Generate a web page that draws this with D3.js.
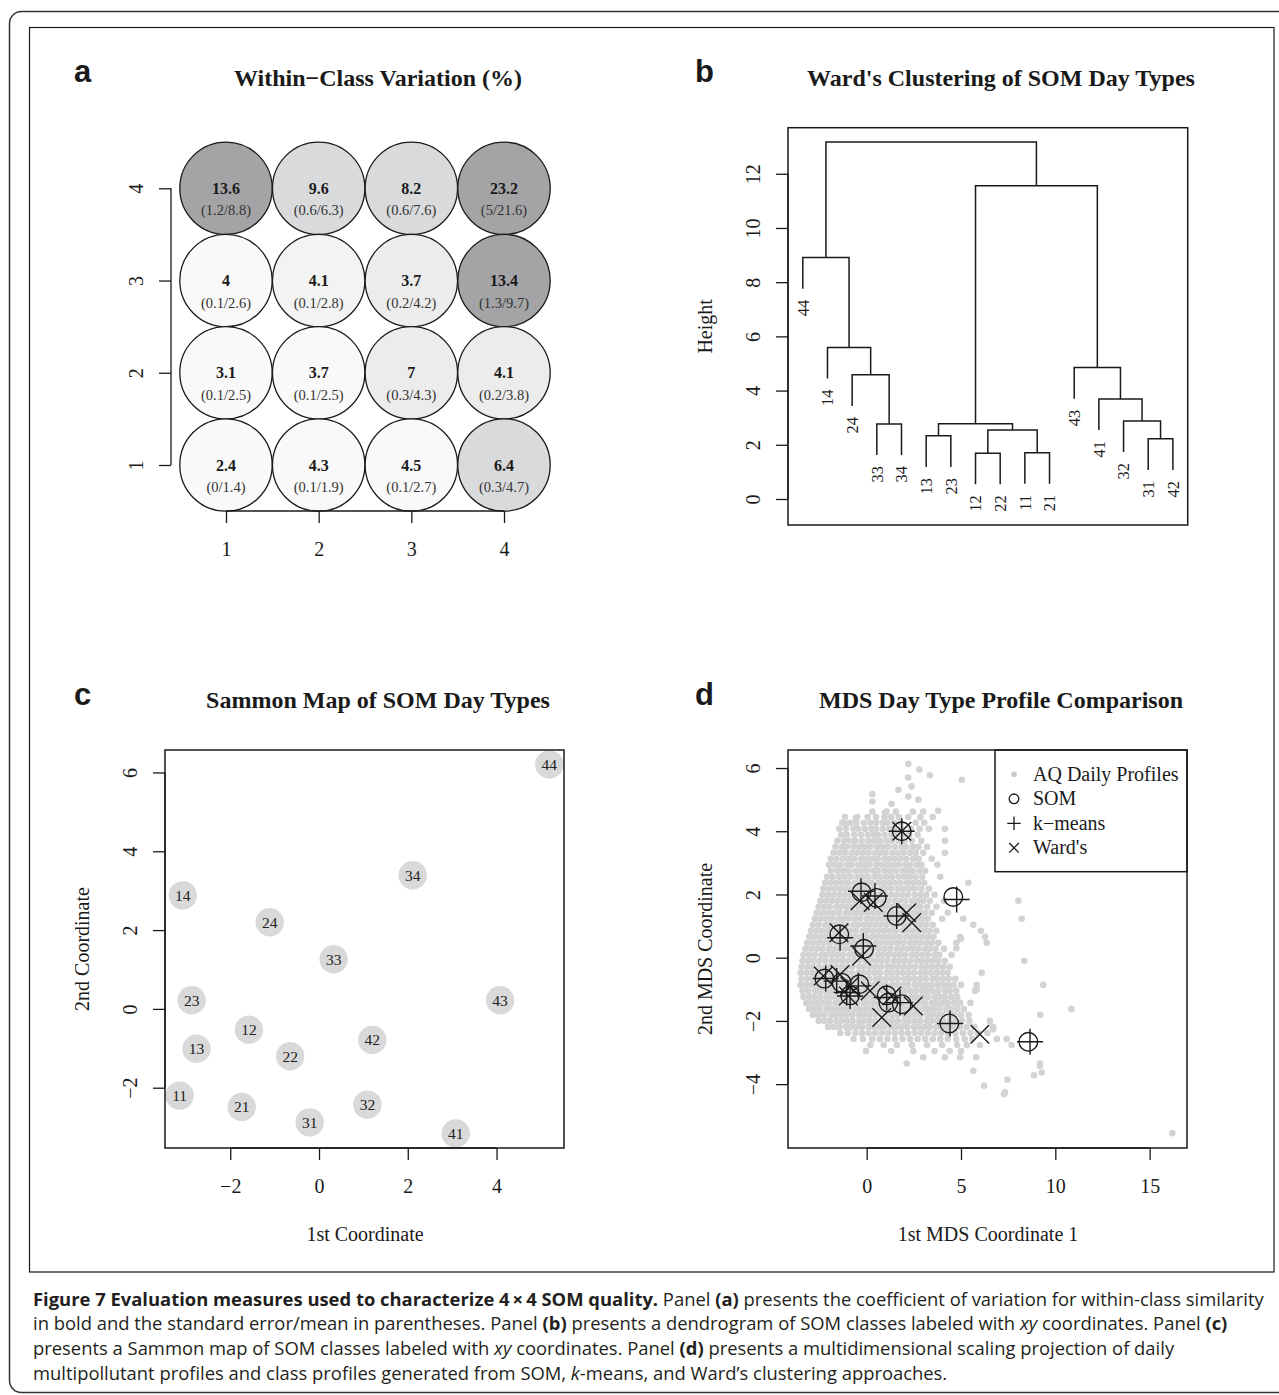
<!DOCTYPE html>
<html>
<head>
<meta charset="utf-8">
<script src="https://cdn.jsdelivr.net/npm/d3@7"></script>
<style>
  body { margin: 0; background: #fff; }
</style>
</head>
<body>
<div id="chart"></div>
<script>
// ---- panel a: within-class variation on the 4x4 SOM grid (rows from y=4 down to y=1)
var gridRows = [4, 3, 2, 1];
var gridCols = [1, 2, 3, 4];
var cvValue = [["13.6", "9.6", "8.2", "23.2"], ["4", "4.1", "3.7", "13.4"], ["3.1", "3.7", "7", "4.1"], ["2.4", "4.3", "4.5", "6.4"]];
var cvSE    = [["1.2", "0.6", "0.6", "5"], ["0.1", "0.1", "0.2", "1.3"], ["0.1", "0.1", "0.3", "0.2"], ["0", "0.1", "0.1", "0.3"]];
var cvMean  = [[8.8, 6.3, 7.6, 21.6], [2.6, 2.8, 4.2, 9.7], [2.5, 2.5, 4.3, 3.8], [1.4, 1.9, 2.7, 4.7]];

// ---- panel b: Ward's dendrogram (leaf order as plotted, merges with heights)
var leafLabels = ["44", "14", "24", "33", "34", "13", "23", "12", "22", "11", "21", "43", "41", "32", "31", "42"];
var merges = [
  ["12", "22", 1.69], ["11", "21", 1.71], ["31", "42", 2.22], ["13", "23", 2.33],
  ["m1", "m2", 2.55], ["33", "34", 2.77], ["m4", "m5", 2.78], ["32", "m3", 2.88],
  ["41", "m8", 3.69], ["24", "m6", 4.58], ["43", "m9", 4.85], ["14", "m10", 5.59],
  ["44", "m12", 8.91], ["m7", "m11", 11.56], ["m13", "m14", 13.17]
];
var heightTicks = [0, 2, 4, 6, 8, 10, 12];

// ---- panel c: Sammon map
var sammonLabels = ["44", "34", "14", "24", "33", "23", "43", "12", "13", "42", "22", "11", "21", "31", "32", "41"];
var sammonX = [5.19, 2.11, -3.07, -1.11, 0.33, -2.87, 4.08, -1.58, -2.76, 1.20, -0.65, -3.14, -1.74, -0.21, 1.09, 3.08];
var sammonY = [6.20, 3.39, 2.88, 2.20, 1.26, 0.22, 0.22, -0.53, -1.01, -0.79, -1.20, -2.20, -2.49, -2.88, -2.43, -3.16];
var sammonXTicks = [-2, 0, 2, 4];
var sammonYTicks = [-2, 0, 2, 4, 6];

// ---- panel d: MDS of daily profiles (rows of points: y, then the x values on that row)
var profileRows = [
  [4.62, "0.3 1.05 1.55 2.45 3.0"],
  [4.45, "-1.15 -0.5 0.05 0.5 0.95 1.3 1.7 2.2 2.85 3.5"],
  [4.27, "-1.3 -0.85 -0.55 -0.15 0.2 0.5 0.85 1.1 1.45 1.8 2.6 3.05"],
  [4.08, "-1.45 -1.1 -0.7 -0.45 -0.1 0.25 0.5 0.85 1.2 1.45 1.85 2.35 2.8 3.3 4.15"],
  [3.89, "-1.35 -1.05 -0.65 -0.3 0.05 0.35 0.6 0.95 1.3 1.6 1.9 2.25 2.7"],
  [3.70, "-1.55 -1.2 -0.9 -0.6 -0.25 0.1 0.4 0.7 1.05 1.35 1.7 2.0 2.4 2.9 4.15"],
  [3.51, "-1.65 -1.3 -1.05 -0.7 -0.4 -0.1 0.2 0.55 0.85 1.15 1.5 1.85 2.1 2.45 2.75 3.2"],
  [3.32, "-1.75 -1.45 -1.15 -0.8 -0.5 -0.2 0.1 0.45 0.7 1.0 1.35 1.65 1.95 2.3 2.6 3.0 4.15"],
  [3.13, "-1.9 -1.6 -1.25 -0.95 -0.65 -0.3 0.0 0.3 0.6 0.95 1.2 1.5 1.8 2.1 2.45 2.75 3.45"],
  [2.94, "-2.0 -1.7 -1.4 -1.05 -0.8 -0.45 -0.15 0.15 0.5 0.8 1.1 1.4 1.7 2.05 2.3 2.65 2.9 3.75"],
  [2.75, "-1.9 -1.55 -1.25 -0.95 -0.6 -0.3 0.0 0.35 0.6 0.95 1.25 1.55 1.9 2.15 2.45 2.8 3.1"],
  [2.56, "-2.1 -1.8 -1.45 -1.15 -0.85 -0.5 -0.2 0.1 0.45 0.75 1.05 1.35 1.7 2.0 2.3 2.6 2.95 3.9"],
  [2.37, "-2.2 -1.9 -1.6 -1.3 -1.0 -0.65 -0.35 -0.05 0.25 0.6 0.9 1.2 1.5 1.8 2.15 2.45 2.75 3.05 5.39"],
  [2.18, "-2.3 -2.0 -1.7 -1.4 -1.1 -0.8 -0.5 -0.15 0.1 0.4 0.75 1.0 1.3 1.65 1.95 2.25 2.55 2.9 3.3"],
  [1.99, "-2.35 -2.05 -1.75 -1.45 -1.15 -0.85 -0.55 -0.25 0.1 0.4 0.7 1.0 1.3 1.6 1.9 2.2 2.55 2.85 3.15 3.6"],
  [1.80, "-2.45 -2.15 -1.85 -1.55 -1.25 -0.95 -0.65 -0.3 -0.05 0.25 0.55 0.85 1.15 1.5 1.75 2.05 2.4 2.7 3.0 3.35 4.1 8.04"],
  [1.61, "-2.55 -2.25 -1.95 -1.6 -1.35 -1.05 -0.75 -0.45 -0.15 0.15 0.45 0.8 1.05 1.35 1.65 1.95 2.25 2.6 2.85 3.2 3.7"],
  [1.42, "-2.65 -2.35 -2.05 -1.75 -1.45 -1.1 -0.85 -0.55 -0.25 0.05 0.35 0.65 0.95 1.3 1.55 1.85 2.2 2.5 2.8 3.1 3.45 4.3"],
  [1.23, "-2.75 -2.45 -2.15 -1.85 -1.5 -1.25 -0.95 -0.65 -0.35 0.0 0.25 0.55 0.85 1.15 1.45 1.8 2.05 2.35 2.65 2.95 3.25 4.0 5.12 8.22"],
  [1.04, "-2.85 -2.55 -2.2 -1.95 -1.65 -1.35 -1.05 -0.7 -0.45 -0.15 0.15 0.45 0.75 1.05 1.4 1.65 1.95 2.25 2.6 2.85 3.15 3.5 5.65"],
  [0.85, "-2.95 -2.65 -2.35 -2.05 -1.7 -1.45 -1.15 -0.85 -0.55 -0.2 0.05 0.35 0.65 0.95 1.25 1.55 1.9 2.15 2.45 2.75 3.05 3.35 3.7 6.05"],
  [0.66, "-3.05 -2.75 -2.45 -2.15 -1.85 -1.55 -1.2 -0.95 -0.65 -0.35 -0.05 0.3 0.55 0.85 1.15 1.45 1.75 2.1 2.35 2.65 2.95 3.25 3.55 4.95 6.27"],
  [0.47, "-3.15 -2.85 -2.55 -2.25 -1.95 -1.6 -1.35 -1.05 -0.75 -0.45 -0.15 0.15 0.5 0.75 1.05 1.35 1.65 1.95 2.3 2.55 2.85 3.15 3.45 3.8 4.75 6.36"],
  [0.28, "-3.25 -2.95 -2.65 -2.35 -2.0 -1.75 -1.45 -1.15 -0.85 -0.55 -0.2 0.05 0.35 0.65 0.95 1.25 1.6 1.85 2.15 2.45 2.75 3.1 3.35 3.65 4.1"],
  [0.09, "-3.35 -3.05 -2.75 -2.4 -2.15 -1.85 -1.55 -1.25 -0.9 -0.65 -0.35 -0.05 0.25 0.6 0.85 1.15 1.45 1.75 2.05 2.4 2.65 2.95 3.25 3.6 3.85 4.5"],
  [-0.10, "-3.4 -3.1 -2.8 -2.5 -2.2 -1.85 -1.6 -1.3 -1.0 -0.7 -0.4 -0.05 0.2 0.5 0.8 1.1 1.45 1.7 2.0 2.3 2.65 2.9 3.2 3.5 3.8 4.15 8.35"],
  [-0.29, "-3.45 -3.15 -2.85 -2.55 -2.2 -1.95 -1.65 -1.35 -1.05 -0.75 -0.4 -0.15 0.15 0.45 0.75 1.1 1.35 1.65 1.95 2.25 2.55 2.9 3.15 3.45 3.75 4.05 4.4"],
  [-0.48, "-3.5 -3.2 -2.9 -2.6 -2.3 -1.95 -1.7 -1.4 -1.1 -0.8 -0.45 -0.2 0.1 0.4 0.7 1.05 1.3 1.6 1.9 2.2 2.5 2.85 3.1 3.4 3.7 4.0 4.3 6.1"],
  [-0.67, "-3.45 -3.15 -2.85 -2.5 -2.25 -1.95 -1.65 -1.35 -1.0 -0.75 -0.45 -0.15 0.15 0.5 0.75 1.05 1.35 1.65 2.0 2.25 2.55 2.85 3.15 3.5 3.75 4.05 4.35 4.7"],
  [-0.86, "-3.5 -3.2 -2.9 -2.6 -2.3 -2.0 -1.65 -1.4 -1.1 -0.8 -0.5 -0.15 0.1 0.4 0.7 1.0 1.35 1.6 1.9 2.2 2.55 2.8 3.1 3.4 3.75 4.0 4.3 4.6 5.0 5.83 9.36"],
  [-1.05, "-3.4 -3.1 -2.75 -2.5 -2.2 -1.9 -1.6 -1.25 -1.0 -0.7 -0.4 -0.1 0.25 0.5 0.8 1.1 1.4 1.75 2.0 2.3 2.6 2.95 3.2 3.5 3.8 4.15 4.4 4.75 5.74"],
  [-1.24, "-3.35 -3.05 -2.75 -2.45 -2.1 -1.85 -1.55 -1.25 -0.95 -0.6 -0.35 -0.05 0.25 0.55 0.9 1.15 1.45 1.75 2.05 2.4 2.65 2.95 3.25 3.6 3.85 4.15 4.5 4.8"],
  [-1.43, "-3.2 -2.9 -2.6 -2.3 -2.0 -1.65 -1.4 -1.1 -0.8 -0.5 -0.15 0.1 0.4 0.7 1.05 1.3 1.6 1.9 2.25 2.5 2.8 3.1 3.45 3.7 4.0 4.3 4.65 4.95 5.5"],
  [-1.62, "-3.05 -2.75 -2.45 -2.1 -1.85 -1.55 -1.25 -0.95 -0.6 -0.35 -0.05 0.25 0.6 0.85 1.15 1.45 1.8 2.05 2.35 2.65 3.0 3.25 3.55 3.85 4.2 4.45 4.8 5.15 10.85"],
  [-1.81, "-2.85 -2.55 -2.25 -1.9 -1.65 -1.35 -1.05 -0.75 -0.4 -0.15 0.15 0.45 0.8 1.05 1.35 1.65 2.0 2.25 2.55 2.85 3.2 3.45 3.75 4.05 4.4 4.65 5.0 5.4 9.2"],
  [-2.00, "-2.55 -2.25 -1.95 -1.6 -1.35 -1.05 -0.75 -0.4 -0.15 0.15 0.45 0.8 1.05 1.35 1.65 2.0 2.25 2.55 2.85 3.2 3.45 3.75 4.05 4.4 4.7 5.05 5.45 6.53"],
  [-2.19, "-2.05 -1.75 -1.45 -1.1 -0.85 -0.55 -0.25 0.1 0.35 0.65 0.95 1.3 1.55 1.85 2.15 2.5 2.75 3.05 3.35 3.7 3.95 4.25 4.6 4.95 5.3 5.7 6.7"],
  [-2.38, "-1.4 -1.0 -0.6 -0.25 0.1 0.45 0.8 1.15 1.5 1.85 2.2 2.55 2.9 3.25 3.6 3.95 4.3 4.7 5.1 5.5 5.9 6.4"],
  [-2.57, "-0.7 -0.2 0.3 0.7 1.1 1.5 1.9 2.3 2.7 3.1 3.5 3.9 4.3 4.75 5.2 5.6 6.9 7.42"],
  [-2.76, "0.2 0.9 1.6 2.4 3.2 4.0 4.8 5.3 6.0 7.68"],
  [-2.95, "-0.04 1.3 2.47 3.6 4.4 5.0"],
  [-3.15, "3.0 4.15 4.95 5.8"],
  [-3.35, "2.12 9.19"]
];
var profileExtra = [
  [2.21, 6.13], [2.79, 5.95], [3.35, 5.77], [5.04, 5.63], [2.2, 5.70], [2.38, 5.42], [1.68, 5.31],
  [0.3, 5.18], [0.3, 4.94], [1.32, 4.87], [2.21, 5.1], [2.74, 5.0], [3.79, 4.65], [-1.1, 4.24],
  [-0.57, 4.42], [0.97, 4.58], [5.0, 0.6], [4.75, 0.3], [5.83, -1.0], [6.7, -2.26], [9.28, -3.63],
  [8.87, -3.72], [7.46, -3.86], [7.28, -4.32], [6.22, -4.05], [5.65, -3.58], [7.33, -4.26],
  [9.18, -3.42], [16.2, -5.55]
];
var somX  = [1.86, -0.27, 0.53, 4.59, 1.59, -1.45, -0.14, -2.24, -1.33, -0.39, -0.88, 1.06, 1.15, 1.86, 4.38, 8.57];
var somY  = [4.0, 2.07, 1.89, 1.92, 1.32, 0.74, 0.28, -0.66, -0.79, -0.84, -1.19, -1.19, -1.42, -1.47, -2.08, -2.66];
var kmX   = [1.86, -0.3, 0.44, 4.77, 1.59, -1.41, -0.18, -2.17, -1.59, -1.06, -0.44, -0.88, 1.06, 1.77, 4.42, 8.66];
var kmY   = [4.0, 2.1, 1.95, 1.84, 1.32, 0.63, 0.37, -0.66, -0.74, -1.1, -0.89, -1.21, -1.26, -1.42, -2.08, -2.66];
var wardX = [1.86, -0.35, 0.35, 2.12, 2.39, -1.47, -0.27, -2.3, -1.41, -0.9, 0.18, -0.97, 1.33, 2.47, 0.8, 6.0];
var wardY = [4.0, 1.8, 1.75, 1.42, 1.11, 0.79, 0.05, -0.58, -0.53, -0.9, -1.05, -1.21, -1.21, -1.53, -1.89, -2.42];
var mdsXTicks = [0, 5, 10, 15];
var mdsYTicks = [-4, -2, 0, 2, 4, 6];
var legendLabels = ["AQ Daily Profiles", "SOM", "k\u2212means", "Ward's"];

// ---- caption
var captionLines = [
  [["Figure 7 Evaluation measures used to characterize 4\u2009\u00d7\u20094 SOM quality.", "b"], [" Panel ", ""], ["(a)", "b"], [" presents the coefficient of variation for within-class similarity", ""]],
  [["in bold and the standard error/mean in parentheses. Panel ", ""], ["(b)", "b"], [" presents a dendrogram of SOM classes labeled with ", ""], ["xy", "i"], [" coordinates. Panel ", ""], ["(c)", "b"]],
  [["presents a Sammon map of SOM classes labeled with ", ""], ["xy", "i"], [" coordinates. Panel ", ""], ["(d)", "b"], [" presents a multidimensional scaling projection of daily", ""]],
  [["multipollutant profiles and class profiles generated from SOM, ", ""], ["k", "i"], ["-means, and Ward\u2019s clustering approaches.", ""]]
];

var serif = "'Liberation Serif','Times New Roman',Times,serif";
var ink = "#1a1a1a";

var svg = d3.select("#chart").append("svg")
    .attr("width", 1279).attr("height", 1395);
svg.append("rect").attr("width", 1279).attr("height", 1395).attr("fill", "#fff");

// outer rounded frame and figure frame
svg.append("rect").attr("x", 9.5).attr("y", 11.5).attr("width", 1290).attr("height", 1381)
    .attr("rx", 12).attr("fill", "none").attr("stroke", "#333").attr("stroke-width", 1.5);
svg.append("rect").attr("x", 29.5).attr("y", 27.5).attr("width", 1244.5).attr("height", 1244.5)
    .attr("fill", "none").attr("stroke", ink).attr("stroke-width", 1.2);

// R style axis: ticks outward, axis line only between first and last tick
function rAxis(g, scale, side, ticks) {
    var ax = (side === "left" ? d3.axisLeft(scale) : d3.axisBottom(scale))
        .tickValues(ticks).tickSize(12).tickSizeOuter(0).tickFormat(d3.format("d"));
    g.call(ax);
    var a = scale(ticks[0]), b = scale(ticks[ticks.length - 1]);
    g.select(".domain").attr("d", side === "left" ? "M0," + a + "V" + b : "M" + a + ",0H" + b);
    g.selectAll("line, path").attr("stroke", ink).attr("stroke-width", 1.3);
    g.selectAll("text").attr("font-family", serif).attr("font-size", 20).attr("fill", ink);
    if (side === "left") {
        g.selectAll(".tick text").attr("dy", null).attr("x", 0).attr("y", -28)
            .attr("text-anchor", "middle").attr("transform", "rotate(-90)");
    } else {
        g.selectAll(".tick text").attr("dy", null).attr("y", 45);
    }
}

function title(x, y, s) {
    svg.append("text").attr("x", x).attr("y", y).attr("text-anchor", "middle")
        .attr("font-family", serif).attr("font-weight", "bold").attr("font-size", 24)
        .attr("fill", ink).text(s);
}
function letter(x, y, s) {
    svg.append("text").attr("x", x).attr("y", y)
        .attr("font-family", "'Liberation Sans',Arial,sans-serif").attr("font-weight", "bold")
        .attr("font-size", 31).attr("fill", ink).text(s);
}
function yLabel(x, y, s) {
    svg.append("text").attr("transform", "translate(" + x + "," + y + ") rotate(-90)")
        .attr("text-anchor", "middle").attr("font-family", serif).attr("font-size", 20)
        .attr("fill", ink).text(s);
}
function xLabel(x, y, s) {
    svg.append("text").attr("x", x).attr("y", y).attr("text-anchor", "middle")
        .attr("font-family", serif).attr("font-size", 20).attr("fill", ink).text(s);
}
function box(x0, y0, x1, y1) {
    svg.append("rect").attr("x", x0).attr("y", y0).attr("width", x1 - x0).attr("height", y1 - y0)
        .attr("fill", "none").attr("stroke", ink).attr("stroke-width", 1.5);
}

letter(74, 82, "a"); letter(695, 82, "b"); letter(74, 705, "c"); letter(695, 705, "d");
title(378, 86, "Within\u2212Class Variation (%)");
title(1001, 86, "Ward's Clustering of SOM Day Types");
title(378, 708, "Sammon Map of SOM Day Types");
title(1001, 708, "MDS Day Type Profile Comparison");

// ================= panel a =================
var ax = d3.scaleLinear().domain([1, 4]).range([226, 504]);
var ay = d3.scaleLinear().domain([1, 4]).range([465, 188.3]);
var shade = d3.scaleThreshold().domain([2.75, 3.5, 4.5, 8])
    .range(["#f9f9f9", "#f2f3f2", "#ececec", "#d9dadb", "#a4a4a7"]);

var cells = [];
gridRows.forEach(function(gy, r) {
    gridCols.forEach(function(gx, c) {
        cells.push({x: gx, y: gy, v: cvValue[r][c], se: cvSE[r][c], m: cvMean[r][c]});
    });
});
var cellG = svg.append("g").selectAll("g").data(cells).enter().append("g")
    .attr("transform", function(d) { return "translate(" + ax(d.x) + "," + ay(d.y) + ")"; });
cellG.append("circle").attr("r", 46.2)
    .attr("fill", function(d) { return shade(d.m); })
    .attr("stroke", ink).attr("stroke-width", 1.3);
cellG.append("text").attr("y", 5.5).attr("text-anchor", "middle")
    .attr("font-family", serif).attr("font-weight", "bold").attr("font-size", 16).attr("fill", ink)
    .text(function(d) { return d.v; });
cellG.append("text").attr("y", 27).attr("text-anchor", "middle")
    .attr("font-family", serif).attr("font-size", 14.5).attr("fill", "#333")
    .text(function(d) { return "(" + d.se + "/" + d.m + ")"; });

rAxis(svg.append("g").attr("transform", "translate(171,0)"), ay, "left", gridCols);
rAxis(svg.append("g").attr("transform", "translate(0,511)"), ax, "bottom", gridCols);

// ================= panel b =================
var bx = d3.scaleLinear().domain([0.4, 16.6]).range([788, 1187.7]);
var by = d3.scaleLinear().domain([-0.96, 13.70]).range([525, 127.7]);
var allH = merges.map(function(m) { return m[2]; });
var hang = 0.1 * (d3.max(allH) - d3.min(allH));
var node = {};
leafLabels.forEach(function(l, i) { node[l] = {x: bx(i + 1), h: null}; });
var dendro = svg.append("g").attr("fill", "none").attr("stroke", ink).attr("stroke-width", 1.5);
merges.forEach(function(m, i) {
    var a = node[m[0]], b = node[m[1]], h = m[2];
    var ah = a.h === null ? h - hang : a.h, bh = b.h === null ? h - hang : b.h;
    if (a.h === null) a.end = ah;
    if (b.h === null) b.end = bh;
    dendro.append("path").attr("d", "M" + a.x + "," + by(ah) + "V" + by(h) + "H" + b.x + "V" + by(bh));
    node["m" + (i + 1)] = {x: (a.x + b.x) / 2, h: h};
});
svg.append("g").selectAll("text").data(leafLabels).enter().append("text")
    .attr("transform", function(d) { return "translate(" + node[d].x + "," + (by(node[d].end) + 11) + ") rotate(-90)"; })
    .attr("text-anchor", "end").attr("dy", "0.35em")
    .attr("font-family", serif).attr("font-size", 16.5).attr("fill", ink)
    .text(function(d) { return d; });
box(788, 127.7, 1187.7, 525);
rAxis(svg.append("g").attr("transform", "translate(788,0)"), by, "left", heightTicks);
yLabel(712, 326.4, "Height");

// ================= panel c =================
var cx = d3.scaleLinear().domain([-3.47, 5.52]).range([165, 564]);
var cy = d3.scaleLinear().domain([-3.53, 6.57]).range([1148, 750]);
var sam = svg.append("g").selectAll("g").data(sammonLabels).enter().append("g")
    .attr("transform", function(d, i) { return "translate(" + cx(sammonX[i]) + "," + cy(sammonY[i]) + ")"; });
sam.append("circle").attr("r", 14.2).attr("fill", "#d9d9d9");
sam.append("text").attr("text-anchor", "middle").attr("dy", "0.35em")
    .attr("font-family", serif).attr("font-size", 15.5).attr("fill", "#222")
    .text(function(d) { return d; });
box(165, 750, 564, 1148);
rAxis(svg.append("g").attr("transform", "translate(165,0)"), cy, "left", sammonYTicks);
rAxis(svg.append("g").attr("transform", "translate(0,1148)"), cx, "bottom", sammonXTicks);
yLabel(89, 949, "2nd Coordinate");
xLabel(365, 1241, "1st Coordinate");

// ================= panel d =================
var dx = d3.scaleLinear().domain([-4.17, 16.98]).range([788, 1187]);
var dy = d3.scaleLinear().domain([-6.02, 6.57]).range([1148, 750]);
var profiles = [];
profileRows.forEach(function(row) {
    row[1].split(" ").forEach(function(s) { profiles.push([+s, row[0]]); });
});
profiles = profiles.concat(profileExtra);
svg.append("g").selectAll("circle").data(profiles).enter().append("circle")
    .attr("cx", function(d) { return dx(d[0]); })
    .attr("cy", function(d) { return dy(d[1]); })
    .attr("r", 3.3).attr("fill", "#d3d3d3");

function plusPath(h) { return "M" + (-h) + ",0H" + h + "M0," + (-h) + "V" + h; }
function crossPath(h) { return "M" + (-h) + "," + (-h) + "L" + h + "," + h + "M" + (-h) + "," + h + "L" + h + "," + (-h); }

var mk = svg.append("g").attr("fill", "none").attr("stroke", ink).attr("stroke-width", 1.4);
mk.selectAll(".som").data(somX).enter().append("circle")
    .attr("cx", function(d) { return dx(d); })
    .attr("cy", function(d, i) { return dy(somY[i]); })
    .attr("r", 9.3);
mk.selectAll(".km").data(kmX).enter().append("path")
    .attr("transform", function(d, i) { return "translate(" + dx(d) + "," + dy(kmY[i]) + ")"; })
    .attr("d", plusPath(13));
mk.selectAll(".ward").data(wardX).enter().append("path")
    .attr("transform", function(d, i) { return "translate(" + dx(d) + "," + dy(wardY[i]) + ")"; })
    .attr("d", crossPath(9.3));

// legend
var lg = svg.append("g");
lg.append("rect").attr("x", 995).attr("y", 750).attr("width", 192).attr("height", 121.7)
    .attr("fill", "#fff").attr("stroke", ink).attr("stroke-width", 1.5);
var rowsG = lg.selectAll("g").data(legendLabels).enter().append("g")
    .attr("transform", function(d, i) { return "translate(1014," + (774.3 + i * 24.5) + ")"; });
rowsG.append("text").attr("x", 19).attr("dy", "0.33em")
    .attr("font-family", serif).attr("font-size", 20).attr("fill", ink)
    .text(function(d) { return d; });
rowsG.filter(function(d, i) { return i === 0; }).append("circle").attr("r", 2.8).attr("fill", "#c8c8c8");
rowsG.filter(function(d, i) { return i === 1; }).append("circle").attr("r", 4.8)
    .attr("fill", "none").attr("stroke", ink).attr("stroke-width", 1.3);
rowsG.filter(function(d, i) { return i === 2; }).append("path").attr("d", plusPath(6.7))
    .attr("stroke", ink).attr("stroke-width", 1.3);
rowsG.filter(function(d, i) { return i === 3; }).append("path").attr("d", crossPath(4.8))
    .attr("stroke", ink).attr("stroke-width", 1.3);

box(788, 750, 1187, 1148);
rAxis(svg.append("g").attr("transform", "translate(788,0)"), dy, "left", mdsYTicks);
rAxis(svg.append("g").attr("transform", "translate(0,1148)"), dx, "bottom", mdsXTicks);
yLabel(712, 949, "2nd MDS Coordinate");
xLabel(988, 1241, "1st MDS Coordinate 1");

// ================= caption =================
var cap = svg.append("g").attr("font-family", "'Open Sans','Noto Sans',sans-serif")
    .attr("font-size", 18.4).attr("fill", "#231f20");
captionLines.forEach(function(line, i) {
    var t = cap.append("text").attr("x", 33).attr("y", 1305.7 + i * 24.6);
    line.forEach(function(seg) {
        t.append("tspan")
            .attr("font-weight", seg[1] === "b" ? "bold" : null)
            .attr("font-style", seg[1] === "i" ? "italic" : null)
            .text(seg[0]);
    });
});
</script>
</body>
</html>
